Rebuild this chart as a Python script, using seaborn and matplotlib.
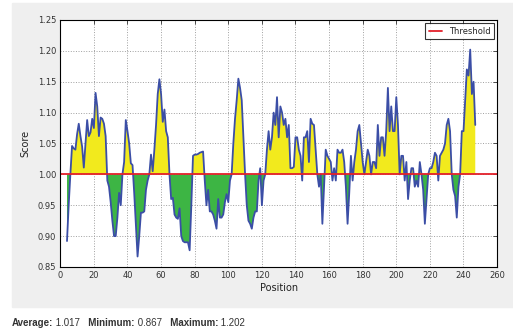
import matplotlib
matplotlib.use("Agg")
import numpy as np
import pandas as pd
import matplotlib.pyplot as plt
import seaborn as sns
from matplotlib.patches import Rectangle

# profil doc tu hinh
positions = list(range(4, 248))
scores = [
    0.892, 0.95, 1.00, 1.046, 1.042, 1.04, 1.065, 1.082, 1.062, 1.045,   # 4-13
    1.011, 1.05, 1.088, 1.062, 1.068, 1.09, 1.075, 1.132, 1.11, 1.062,   # 14-23
    1.092, 1.09, 1.082, 1.062, 0.99, 0.98, 0.955, 0.925, 0.90, 0.90,     # 24-33
    0.93, 0.97, 0.95, 1.00, 1.02, 1.088, 1.07, 1.05, 1.018, 1.015,       # 34-43
    0.97, 0.92, 0.867, 0.90, 0.938, 0.938, 0.94, 0.975, 0.99, 1.00,      # 44-53
    1.032, 1.005, 1.04, 1.08, 1.13, 1.154, 1.13, 1.085, 1.105, 1.07,     # 54-63
    1.06, 1.00, 0.96, 0.962, 0.935, 0.93, 0.928, 0.945, 0.90, 0.892,     # 64-73
    0.89, 0.89, 0.89, 0.877, 0.95, 1.03, 1.032, 1.032, 1.033, 1.035,     # 74-83
    1.036, 1.037, 0.99, 0.95, 0.975, 0.94, 0.94, 0.935, 0.925, 0.912,    # 84-93
    0.96, 0.93, 0.93, 0.935, 0.955, 0.968, 0.955, 0.99, 1.00, 1.05,      # 94-103
    1.09, 1.12, 1.155, 1.14, 1.12, 1.06, 1.00, 0.95, 0.925, 0.92,        # 104-113
    0.912, 0.93, 0.94, 0.94, 0.99, 1.01, 0.95, 0.99, 1.00, 1.04,         # 114-123
    1.07, 1.04, 1.06, 1.10, 1.08, 1.125, 1.06, 1.11, 1.10, 1.08,         # 124-133
    1.09, 1.06, 1.08, 1.01, 1.01, 1.012, 1.06, 1.06, 1.04, 1.03,         # 134-143
    0.99, 1.06, 1.06, 1.07, 1.02, 1.09, 1.082, 1.08, 1.04, 1.00,         # 144-153
    0.98, 1.00, 0.92, 0.98, 1.04, 1.03, 1.025, 1.02, 0.99, 1.01,         # 154-163
    0.99, 1.04, 1.035, 1.035, 1.04, 1.02, 0.98, 0.92, 0.97, 1.03,        # 164-173
    0.99, 1.02, 1.04, 1.07, 1.08, 1.05, 1.02, 1.00, 1.02, 1.04,          # 174-183
    1.03, 1.00, 1.02, 1.02, 1.01, 1.08, 1.03, 1.06, 1.06, 1.03,          # 184-193
    1.07, 1.14, 1.07, 1.11, 1.07, 1.07, 1.125, 1.08, 1.00, 1.03,         # 194-203
    1.03, 0.99, 1.02, 0.96, 0.99, 1.01, 1.01, 0.98, 0.99, 0.98,          # 204-213
    1.02, 1.00, 0.975, 0.92, 0.96, 1.00, 1.01, 1.01, 1.02, 1.035,        # 214-223
    1.03, 0.99, 1.03, 1.035, 1.04, 1.05, 1.08, 1.09, 1.07, 1.00,         # 224-233
    0.975, 0.965, 0.93, 0.98, 1.00, 1.07, 1.07, 1.12, 1.17, 1.16,        # 234-243
    1.202, 1.13, 1.15, 1.08,                                             # 244-247
]
threshold = 1.0
x_ticks = list(range(0, 261, 20))
y_ticks = [0.85, 0.90, 0.95, 1.00, 1.05, 1.10, 1.15, 1.20, 1.25]
summary = [("Average:", "1.017"), ("Minimum:", "0.867"), ("Maximum:", "1.202")]

df = pd.DataFrame({"Position": positions, "Score": scores})

sns.set_style("white")
plt.rcParams["font.family"] = ["DejaVu Sans"]

fig = plt.figure(figsize=(5.13, 3.31), dpi=100)
fig.patch.set_facecolor("white")
# nen xam phia sau bieu do
fig.add_artist(Rectangle((12 / 513, 1 - 307 / 331), 1, 304 / 331,
                         transform=fig.transFigure, color="#efefef", zorder=-10))

ax = fig.add_axes([0.1175, 0.1934, 0.8515, 0.7462])
ax.set_facecolor("white")

ax.fill_between(df["Position"], df["Score"], threshold, where=df["Score"] >= threshold,
                interpolate=True, color="#f2ea1d", lw=0)
ax.fill_between(df["Position"], df["Score"], threshold, where=df["Score"] < threshold,
                interpolate=True, color="#3db544", lw=0)
sns.lineplot(data=df, x="Position", y="Score", ax=ax, color="#3b4ea6", lw=1.3)
ax.axhline(threshold, color="#e3202a", lw=1.3, label="Threshold")

ax.set_xlim(0, 260)
ax.set_ylim(0.85, 1.25)
ax.set_xticks(x_ticks)
ax.set_yticks(y_ticks)
ax.set_yticklabels([f"{v:.2f}" for v in y_ticks])
ax.tick_params(direction="in", top=True, right=True, labelsize=6, length=3,
               width=0.6, colors="#333333", pad=3)
ax.grid(True, ls=":", color="#a0a0a0", lw=0.7)
for s in ax.spines.values():
    s.set_color("black")
    s.set_linewidth(0.8)
ax.set_xlabel("Position", fontsize=7, color="#222222", labelpad=2)
ax.set_ylabel("Score", fontsize=7, color="#222222", labelpad=5)

leg = ax.legend(loc="upper right", fontsize=6, frameon=True, fancybox=False,
                handlelength=1.6, borderpad=0.4, borderaxespad=0.4)
leg.get_frame().set_edgecolor("black")
leg.get_frame().set_linewidth(0.8)

# dong thong ke ben duoi
prev = None
for i, (name, val) in enumerate(summary):
    lab = name if i == 0 else "   " + name
    if prev is None:
        prev = fig.text(12 / 513, 1 - 323 / 331, lab, fontsize=7, weight="bold",
                        family="Liberation Sans", color="#333333", va="center")
    else:
        prev = ax.annotate(lab, xy=(1, 0.5), xycoords=prev, fontsize=7, weight="bold",
                           family="Liberation Sans", color="#333333", va="center",
                           annotation_clip=False)
    prev = ax.annotate(" " + val, xy=(1, 0.5), xycoords=prev, fontsize=7,
                       family="Liberation Sans", color="#333333", va="center",
                       annotation_clip=False)

plt.savefig("out.png", dpi=100)
